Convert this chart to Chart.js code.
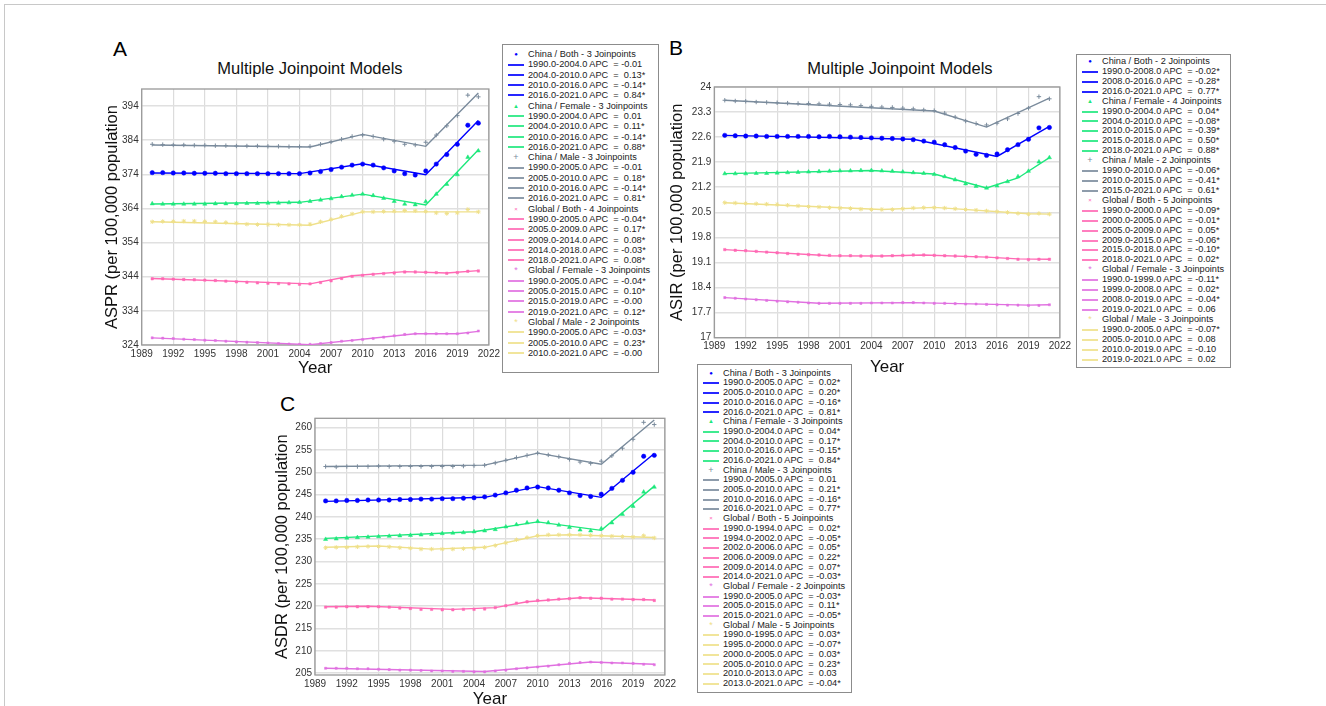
<!DOCTYPE html>
<html>
<head>
<meta charset="utf-8">
<script src="https://cdn.jsdelivr.net/npm/chart.js@4.4.1/dist/chart.umd.min.js"></script>
<style>
  html, body { margin: 0; padding: 0; background: #fff; overflow: hidden; }
  body { width: 1326px; height: 706px; position: relative; font-family: "Liberation Sans", Arial, sans-serif; }
  #frame { position: absolute; left: 4px; top: 4px; width: 1340px; height: 720px; border: 1.5px solid #c8c8c8; }
  .lbl { position: absolute; font-size: 21px; color: #000; }
  .ttl { position: absolute; font-size: 16.5px; color: #111; width: 300px; text-align: center; }
  .box { position: absolute; }
  .legend { position: absolute; background: #fff; border: 1px solid #8c8c8c; box-sizing: border-box; z-index: 2; }
  .row { position: absolute; left: 0; right: 0; font-size: 9.2px; color: #222; white-space: pre; }
  .swatch { position: absolute; left: 5px; width: 16px; height: 2px; opacity: 0.85; }
  .row .mk { position: absolute; left: 5px; width: 16px; text-align: center; }
  .row .tx { position: absolute; left: 25px; }
</style>
</head>
<body>
<div id="frame"></div>

<div class="lbl" style="left:113px;top:37px">A</div>
<div class="ttl" style="left:160px;top:59px">Multiple Joinpoint Models</div>
<div class="box" style="left:99px;top:80px;width:404px;height:299px"><canvas id="chartA"></canvas></div>
<div class="legend" id="legA" style="left:502px;top:44px;width:157px;height:329px"></div>

<div class="lbl" style="left:669px;top:36px">B</div>
<div class="ttl" style="left:750px;top:59px">Multiple Joinpoint Models</div>
<div class="box" style="left:664px;top:78px;width:410px;height:300px"><canvas id="chartB"></canvas></div>
<div class="legend" id="legB" style="left:1076px;top:54px;width:155px;height:314px"></div>

<div class="lbl" style="left:280px;top:392px">C</div>
<div class="box" style="left:269px;top:408px;width:410px;height:302px"><canvas id="chartC"></canvas></div>
<div class="legend" id="legC" style="left:697px;top:364px;width:155px;height:329px"></div>

<script>
const years = [1990, 1991, 1992, 1993, 1994, 1995, 1996, 1997, 1998, 1999, 2000, 2001, 2002, 2003, 2004, 2005,
  2006, 2007, 2008, 2009, 2010, 2011, 2012, 2013, 2014, 2015, 2016, 2017, 2018, 2019, 2020, 2021];
const xTicks = [1989, 1992, 1995, 1998, 2001, 2004, 2007, 2010, 2013, 2016, 2019, 2022];

const seriesNames = ["China / Both", "China / Female", "China / Male", "Global / Both", "Global / Female", "Global / Male"];

// ---- A: ASPR ----
const asprTicks = [324, 334, 344, 354, 364, 374, 384, 394];
const asprChinaBoth = [374.5, 374.5, 374.4, 374.4, 374.3, 374.3, 374.3, 374.2, 374.2, 374.2, 374.2, 374.2, 374.2, 374.2, 374.2,
  374.4, 374.8, 375.4, 376.1, 376.7, 377.0, 376.7, 375.9, 375.0, 374.2, 373.8, 375.0, 377.0, 379.8, 382.8, 388.4, 389.0];
const asprChinaFemale = [365.4, 365.3, 365.3, 365.3, 365.3, 365.3, 365.4, 365.4, 365.4, 365.5, 365.5, 365.6, 365.6, 365.7, 365.8,
  366.1, 366.5, 366.9, 367.5, 367.9, 368.2, 367.8, 367.0, 366.1, 365.3, 365.1, 366.0, 368.2, 371.1, 373.9, 379.0, 380.9];
const asprChinaMale = [382.8, 382.7, 382.6, 382.6, 382.5, 382.5, 382.4, 382.4, 382.3, 382.3, 382.3, 382.2, 382.2, 382.1, 382.1,
  382.2, 382.8, 383.5, 384.3, 385.1, 385.5, 385.1, 384.3, 383.7, 382.8, 382.6, 383.4, 385.5, 388.2, 391.2, 397.2, 396.7];
const asprGlobalBoth = [343.4, 343.4, 343.3, 343.2, 343.1, 343.0, 342.9, 342.7, 342.5, 342.4, 342.2, 342.1, 342.0, 341.9, 341.8,
  341.9, 342.3, 342.8, 343.5, 344.1, 344.4, 344.7, 344.9, 345.1, 345.4, 345.4, 345.3, 345.2, 345.0, 345.2, 345.6, 345.7];
const asprGlobalFemale = [326.1, 326.0, 325.9, 325.7, 325.6, 325.4, 325.3, 325.1, 324.9, 324.8, 324.7, 324.6, 324.4, 324.3, 324.2,
  324.2, 324.4, 324.7, 325.1, 325.3, 325.6, 325.9, 326.3, 326.7, 327.1, 327.3, 327.3, 327.3, 327.3, 327.3, 327.5, 328.1];
const asprGlobalMale = [360.1, 360.2, 360.2, 360.3, 360.3, 360.2, 360.1, 359.9, 359.7, 359.4, 359.3, 359.3, 359.2, 359.2, 359.2,
  359.4, 360.1, 360.8, 361.7, 362.4, 363.0, 363.0, 363.1, 363.2, 363.4, 363.3, 363.1, 362.7, 362.5, 362.7, 363.7, 363.0];
// joinpoint fits: segment end years, fitted values, APC per segment
const asprFitYears = [[1990, 2004, 2010, 2016, 2021], [1990, 2004, 2010, 2016, 2021], [1990, 2005, 2010, 2016, 2021],
  [1990, 2005, 2009, 2014, 2018, 2021], [1990, 2005, 2015, 2019, 2021], [1990, 2005, 2010, 2021]];
const asprFitVals = [[374.4, 374.2, 377.1, 373.9, 389.8], [365.3, 365.8, 368.2, 365.0, 381.2], [382.6, 382.0, 385.7, 382.2, 397.8],
  [343.5, 341.9, 344.3, 345.5, 345.1, 345.8], [326.1, 324.1, 327.3, 327.3, 328.0], [360.1, 359.1, 363.0, 363.0]];
const asprApc = [["-0.01", "0.13*", "-0.14*", "0.84*"], ["0.01", "0.11*", "-0.14*", "0.88*"], ["-0.01", "0.18*", "-0.14*", "0.81*"],
  ["-0.04*", "0.17*", "0.08*", "-0.03*", "0.08*"], ["-0.04*", "0.10*", "-0.00", "0.12*"], ["-0.03*", "0.23*", "-0.00"]];

// ---- B: ASIR ----
const asirTicks = [17, 17.7, 18.4, 19.1, 19.8, 20.5, 21.2, 21.9, 22.6, 23.3, 24];
const asirChinaBoth = [22.65, 22.64, 22.63, 22.63, 22.62, 22.62, 22.62, 22.62, 22.62, 22.61, 22.62, 22.61, 22.60, 22.59, 22.58,
  22.57, 22.56, 22.55, 22.53, 22.49, 22.46, 22.39, 22.31, 22.21, 22.12, 22.09, 22.13, 22.25, 22.39, 22.54, 22.86, 22.87];
const asirChinaFemale = [21.58, 21.58, 21.58, 21.59, 21.59, 21.60, 21.61, 21.62, 21.63, 21.64, 21.65, 21.66, 21.66, 21.67, 21.67,
  21.66, 21.65, 21.63, 21.61, 21.59, 21.56, 21.50, 21.41, 21.30, 21.23, 21.18, 21.24, 21.36, 21.50, 21.65, 21.91, 22.03];
const asirChinaMale = [23.63, 23.61, 23.60, 23.58, 23.57, 23.56, 23.55, 23.54, 23.54, 23.53, 23.52, 23.51, 23.50, 23.48, 23.46,
  23.44, 23.43, 23.41, 23.39, 23.36, 23.34, 23.27, 23.16, 23.05, 22.98, 22.94, 22.99, 23.11, 23.26, 23.41, 23.73, 23.67];
const asirGlobalBoth = [19.46, 19.44, 19.43, 19.41, 19.39, 19.37, 19.35, 19.33, 19.32, 19.31, 19.30, 19.29, 19.29, 19.28, 19.28,
  19.28, 19.29, 19.30, 19.31, 19.31, 19.30, 19.29, 19.28, 19.27, 19.26, 19.25, 19.23, 19.21, 19.19, 19.18, 19.19, 19.19];
const asirGlobalFemale = [18.12, 18.10, 18.08, 18.06, 18.04, 18.02, 18.00, 17.99, 17.97, 17.96, 17.96, 17.96, 17.96, 17.96, 17.97,
  17.97, 17.97, 17.98, 17.98, 17.97, 17.96, 17.96, 17.95, 17.94, 17.94, 17.93, 17.92, 17.91, 17.91, 17.90, 17.90, 17.92];
const asirGlobalMale = [20.77, 20.76, 20.75, 20.74, 20.73, 20.72, 20.70, 20.68, 20.66, 20.65, 20.63, 20.62, 20.61, 20.59, 20.58,
  20.58, 20.58, 20.60, 20.62, 20.63, 20.63, 20.62, 20.60, 20.58, 20.56, 20.54, 20.52, 20.50, 20.47, 20.45, 20.47, 20.45];
const asirFitYears = [[1990, 2008, 2016, 2021], [1990, 2004, 2010, 2015, 2018, 2021], [1990, 2010, 2015, 2021],
  [1990, 2000, 2005, 2009, 2015, 2018, 2021], [1990, 1999, 2008, 2019, 2021], [1990, 2005, 2010, 2019, 2021]];
const asirFitVals = [[22.65, 22.54, 22.06, 22.90], [21.58, 21.67, 21.57, 21.18, 21.46, 22.03], [23.63, 23.33, 22.88, 23.69],
  [19.46, 19.29, 19.28, 19.31, 19.25, 19.20, 19.19], [18.12, 17.96, 17.98, 17.91, 17.92], [20.77, 20.58, 20.64, 20.46, 20.45]];
const asirApc = [["-0.02*", "-0.28*", "0.77*"], ["0.04*", "-0.08*", "-0.39*", "0.50*", "0.88*"], ["-0.06*", "-0.41*", "0.61*"],
  ["-0.09*", "-0.01*", "0.05*", "-0.06*", "-0.10*", "0.02*"], ["-0.11*", "0.02*", "-0.04*", "0.06"], ["-0.07*", "0.08", "-0.10", "0.02"]];

// ---- C: ASDR ----
const asdrTicks = [205, 210, 215, 220, 225, 230, 235, 240, 245, 250, 255, 260];
const asdrChinaBoth = [243.6, 243.6, 243.7, 243.7, 243.8, 243.8, 243.8, 243.9, 243.9, 244.0, 244.0, 244.1, 244.1, 244.2, 244.3,
  244.5, 244.9, 245.4, 246.0, 246.5, 246.7, 246.5, 246.0, 245.4, 244.8, 244.6, 245.1, 246.4, 248.2, 250.0, 253.6, 253.8];
const asdrChinaFemale = [235.0, 235.1, 235.3, 235.4, 235.5, 235.6, 235.7, 235.8, 235.9, 236.0, 236.1, 236.3, 236.4, 236.5, 236.7,
  236.9, 237.2, 237.8, 238.3, 238.7, 239.0, 238.7, 238.2, 237.7, 237.1, 236.9, 237.4, 238.7, 240.6, 242.4, 245.6, 246.7];
const asdrChinaMale = [251.3, 251.2, 251.3, 251.3, 251.3, 251.4, 251.3, 251.3, 251.3, 251.3, 251.3, 251.3, 251.3, 251.4, 251.5,
  251.6, 252.1, 252.7, 253.3, 253.8, 254.3, 253.9, 253.5, 252.9, 252.3, 252.0, 252.5, 253.7, 255.4, 257.4, 261.2, 260.7];
const asdrGlobalBoth = [219.8, 219.8, 219.9, 219.9, 219.9, 219.9, 219.8, 219.6, 219.5, 219.3, 219.3, 219.2, 219.2, 219.3, 219.3,
  219.4, 219.7, 220.1, 220.7, 221.0, 221.3, 221.4, 221.6, 221.7, 221.9, 221.8, 221.8, 221.6, 221.6, 221.5, 221.5, 221.3];
const asdrGlobalFemale = [206.1, 206.1, 206.1, 206.0, 206.0, 205.9, 205.8, 205.7, 205.7, 205.6, 205.5, 205.5, 205.4, 205.4, 205.3,
  205.3, 205.5, 205.7, 206.0, 206.2, 206.4, 206.6, 206.9, 207.2, 207.4, 207.5, 207.4, 207.3, 207.3, 207.2, 207.0, 206.9];
const asdrGlobalMale = [233.1, 233.2, 233.2, 233.3, 233.4, 233.4, 233.3, 233.1, 233.0, 232.8, 232.8, 232.8, 232.8, 232.9, 233.0,
  233.2, 233.6, 234.2, 234.9, 235.4, 235.8, 236.0, 236.0, 236.0, 236.0, 235.9, 235.8, 235.7, 235.6, 235.5, 235.8, 235.3];
const asdrFitYears = [[1990, 2005, 2010, 2016, 2021], [1990, 2004, 2010, 2016, 2021], [1990, 2005, 2010, 2016, 2021],
  [1990, 1994, 2002, 2006, 2009, 2014, 2021], [1990, 2005, 2015, 2021], [1990, 1995, 2000, 2005, 2010, 2013, 2021]];
const asdrFitVals = [[243.5, 244.4, 246.8, 244.4, 254.2], [235.2, 236.7, 238.9, 237.0, 246.9], [251.3, 251.6, 254.3, 251.8, 261.7],
  [219.9, 220.0, 219.3, 219.7, 221.0, 221.9, 221.4], [206.1, 205.4, 207.5, 207.0], [233.2, 233.5, 232.8, 233.2, 235.8, 236.0, 235.4]];
const asdrApc = [["0.02*", "0.20*", "-0.16*", "0.81*"], ["0.04*", "0.17*", "-0.15*", "0.84*"], ["0.01", "0.21*", "-0.16*", "0.77*"],
  ["0.02*", "-0.05*", "0.05*", "0.22*", "0.07*", "-0.03*"], ["-0.03*", "0.11*", "-0.05*"], ["0.03*", "-0.07*", "0.03*", "0.23*", "0.03", "-0.04*"]];

// series look, same order as seriesNames
const colors = ["#0000ff", "#1ee87c", "#7a8b9c", "#ff69b4", "#e070e0", "#efe08a"];
const pointStyles = ["circle", "triangle", "cross", "rect", "rect", "star"];
const pointSizes = [2.2, 2.4, 2.2, 1.7, 1.5, 2.2];
const markChars = ["●", "▲", "+", "×", "*", "*"];

const FONT = "'Liberation Sans', Arial, sans-serif";

const plotBorder = {
  id: "plotBorder",
  beforeDatasetsDraw(chart) {
    const { ctx, chartArea: a } = chart;
    ctx.save();
    ctx.strokeStyle = "#999";
    ctx.lineWidth = 1.3;
    ctx.strokeRect(a.left, a.top, a.right - a.left, a.bottom - a.top);
    ctx.restore();
  },
};

function makeChart(id, obs, fitYears, fitVals, yTicks, yMin, yMax, yTitle, geo) {
  const datasets = [];
  obs.forEach((vals, i) => {
    datasets.push({
      type: "line",
      data: years.map((y, k) => ({ x: y, y: vals[k] })),
      showLine: false,
      pointStyle: pointStyles[i],
      pointRadius: pointSizes[i],
      backgroundColor: colors[i],
      borderColor: colors[i],
      pointBorderWidth: pointStyles[i] === "cross" || pointStyles[i] === "star" ? 1 : 0.5,
    });
  });
  fitYears.forEach((ys, i) => {
    datasets.push({
      type: "line",
      data: ys.map((y, k) => ({ x: y, y: fitVals[i][k] })),
      borderColor: colors[i],
      borderWidth: 1.4,
      pointRadius: 0,
      tension: 0,
    });
  });

  new Chart(document.getElementById(id), {
    type: "line",
    data: { datasets },
    plugins: [plotBorder],
    options: {
      animation: false,
      responsive: true,
      maintainAspectRatio: false,
      layout: { padding: { top: geo.padTop, right: geo.padRight, left: 0, bottom: 0 } },
      plugins: { legend: { display: false }, tooltip: { enabled: false } },
      scales: {
        x: {
          type: "linear",
          min: 1989,
          max: 2022,
          afterBuildTicks: (axis) => { axis.ticks = xTicks.map((v) => ({ value: v })); },
          afterFit: (scale) => { scale.height = geo.xHeight; },
          grid: { color: "#dcdcdc", lineWidth: 1.2, drawTicks: false },
          border: { display: false },
          ticks: { padding: 3, color: "#333", font: { size: 10, family: FONT }, autoSkip: false, maxRotation: 0, callback: (v) => String(v) },
          title: { display: true, text: "Year", color: "#111", font: { size: 17, family: FONT }, padding: 0 },
        },
        y: {
          min: yMin,
          max: yMax,
          afterBuildTicks: (axis) => { axis.ticks = yTicks.map((v) => ({ value: v })); },
          afterFit: (scale) => { scale.width = geo.yWidth; },
          grid: { color: "#e0e0e0", lineWidth: 1.6, drawTicks: false },
          border: { display: false },
          ticks: { padding: 3, color: "#333", font: { size: 10, family: FONT }, autoSkip: false, callback: (v) => String(v) },
          title: { display: true, text: yTitle, color: "#111", font: { size: 16.5, family: FONT }, padding: { top: 4, bottom: 0 } },
        },
      },
    },
  });
}

function buildLegend(id, fitYears, apc, rowH, firstTop) {
  const el = document.getElementById(id);
  let top = firstTop;
  const addRow = (html, swatchColor) => {
    const r = document.createElement("div");
    r.className = "row";
    r.style.top = top + "px";
    r.style.height = rowH + "px";
    r.style.lineHeight = rowH + "px";
    r.innerHTML = html;
    el.appendChild(r);
    if (swatchColor) {
      const s = document.createElement("div");
      s.className = "swatch";
      s.style.background = swatchColor;
      s.style.top = Math.round(top + rowH / 2 - 1) + "px";
      el.appendChild(s);
    }
    top += rowH;
  };
  seriesNames.forEach((name, i) => {
    const n = fitYears[i].length - 2;
    const mkSize = i === 2 ? 9 : i >= 4 ? 9 : 6;
    addRow(`<span class="mk" style="color:${colors[i]};font-size:${mkSize}px">${markChars[i]}</span>` +
      `<span class="tx">${name} - ${n} Joinpoints</span>`);
    apc[i].forEach((v, k) => {
      const a = fitYears[i][k].toFixed(1);
      const b = fitYears[i][k + 1].toFixed(1);
      const val = v.startsWith("-") ? v : " " + v;
      addRow(`<span class="tx">${a}-${b} APC  = ${val}</span>`, colors[i]);
    });
  });
}

makeChart("chartA",
  [asprChinaBoth, asprChinaFemale, asprChinaMale, asprGlobalBoth, asprGlobalFemale, asprGlobalMale],
  asprFitYears, asprFitVals, asprTicks, 324, 399, "ASPR (per 100,000 population",
  { yWidth: 42.7, xHeight: 34, padTop: 3.3, padRight: 12.3 });
makeChart("chartB",
  [asirChinaBoth, asirChinaFemale, asirChinaMale, asirGlobalBoth, asirGlobalFemale, asirGlobalMale],
  asirFitYears, asirFitVals, asirTicks, 17, 24, "ASIR (per 100,000 population",
  { yWidth: 50.3, xHeight: 40.3, padTop: 8.7, padRight: 11.7 });
makeChart("chartC",
  [asdrChinaBoth, asdrChinaFemale, asdrChinaMale, asdrGlobalBoth, asdrGlobalFemale, asdrGlobalMale],
  asdrFitYears, asdrFitVals, asdrTicks, 204.6, 262.1, "ASDR (per 100,000 population",
  { yWidth: 46, xHeight: 35, padTop: 10.3, padRight: 11.3 });

buildLegend("legA", asprFitYears, asprApc, 10.3, 4.1);
buildLegend("legB", asirFitYears, asirApc, 9.92, 2.0);
buildLegend("legC", asdrFitYears, asdrApc, 9.69, 3.8);
</script>
</body>
</html>
